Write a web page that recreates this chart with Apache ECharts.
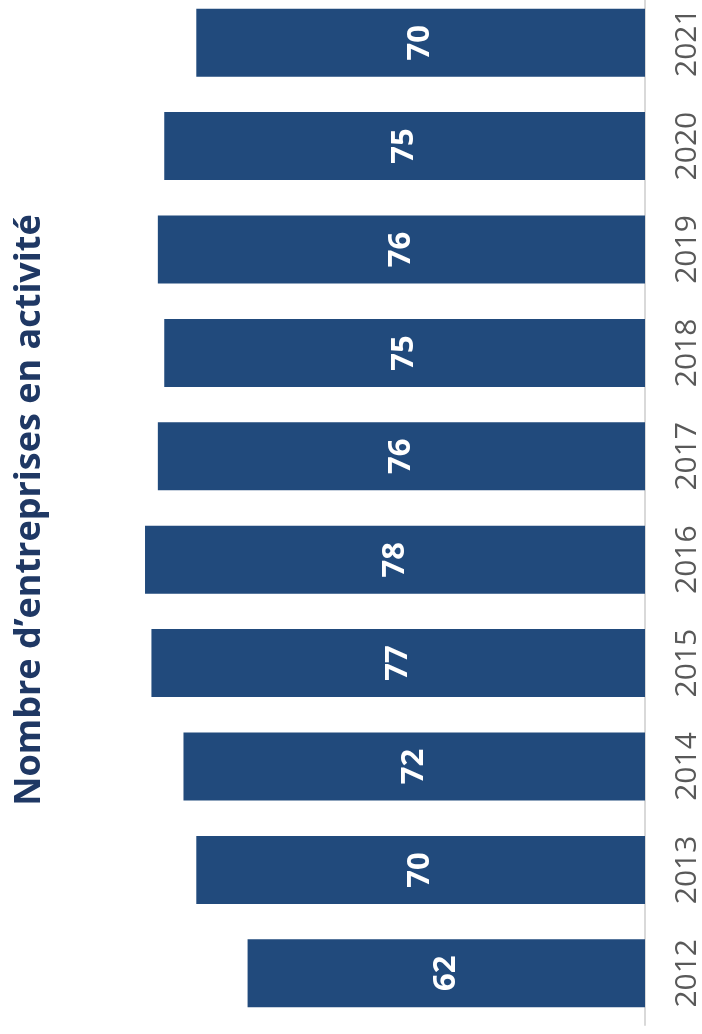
<!DOCTYPE html>
<html><head><meta charset="utf-8">
<script src="https://cdn.jsdelivr.net/npm/echarts@6/dist/echarts.min.js"></script>
<style>html,body{margin:0;padding:0;background:#fff;overflow:hidden}#c{position:absolute;left:0;top:-9px;width:702px;height:1043px}</style>
</head><body><div id="c"></div>
<script>
const years = ['2012','2013','2014','2015','2016','2017','2018','2019','2020','2021'];
const values = [62,70,72,77,78,76,75,76,75,70];
const titleText = 'Nombre d\u2019entreprises en activité';

const chart = echarts.init(document.getElementById('c'));
chart.setOption({
  animation:false,
  grid:{left:4,right:57,top:0,bottom:9},
  xAxis:{type:'value',inverse:true,min:0,max:100,show:false},
  yAxis:{type:'category',data:years,position:'right',
    axisLine:{show:true,lineStyle:{color:'#d9d9d9',width:2}},
    axisTick:{show:false},
    axisLabel:{rotate:90,color:'#595959',fontSize:30,fontFamily:'Open Sans',margin:27}},
  series:[{type:'bar',data:values,barWidth:68,itemStyle:{color:'#214a7c'},
    label:{show:true,position:'inside',rotate:90,color:'#fff',fontWeight:'bold',fontSize:31,fontFamily:'Open Sans'}}],
  graphic:[{type:'text',x:30,y:519,rotation:Math.PI/2,
    style:{text:titleText,fill:'#1f3864',font:'bold 36px "Open Sans"',textAlign:'center',textVerticalAlign:'middle'}}]
});
</script></body></html>
